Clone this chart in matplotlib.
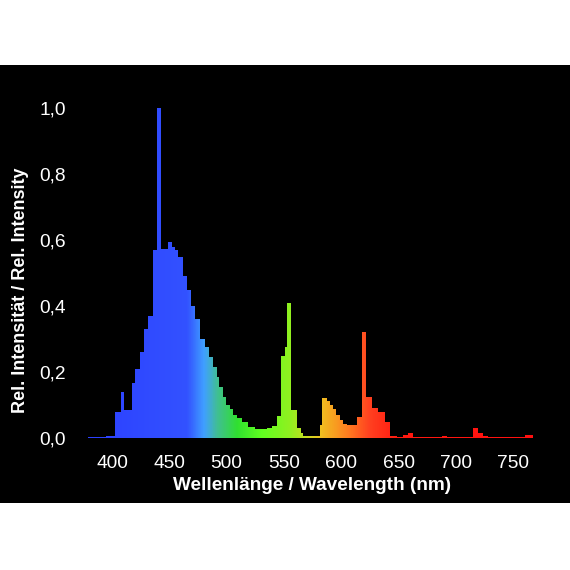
import matplotlib
matplotlib.use("Agg")
import matplotlib.pyplot as plt
import numpy as np
from matplotlib.colors import LinearSegmentedColormap, to_rgb
from matplotlib.patches import Rectangle
from matplotlib.ticker import FuncFormatter, FixedLocator

plt.rcParams['font.family'] = ['Liberation Sans', 'DejaVu Sans']

# bin left edges (nm) and relative intensity per bin
edges = [379, 395, 402.6, 408, 410.5, 417.5, 420, 424.5, 428, 431.5,
         435.8, 439, 442.5, 449, 452.4, 455, 458, 462, 465.4, 469,
         472.4, 476.8, 481.2, 484.5, 488.1, 491.6, 493.4, 496.9, 499.5, 503,
         505.6, 509.1, 513.4, 518.7, 524.8, 535.3, 539.6, 544, 547.5, 551,
         552.7, 556.2, 561.4, 564.9, 566.7, 581.5, 583.2, 587.6, 590.2, 592.8,
         595.5, 599, 601.6, 605.1, 613.8, 618.2, 621.6, 626.9, 632.1, 638.2,
         642.6, 648.7, 653.9, 658.3, 662.7, 688, 692, 715, 719.4, 723.7,
         728.1, 760.4, 767.4]
values = [0.004, 0.006, 0.08, 0.14, 0.085, 0.167, 0.21, 0.26, 0.33, 0.37,
          0.57, 1.0, 0.573, 0.594, 0.58, 0.57, 0.55, 0.49, 0.45, 0.40,
          0.36, 0.30, 0.275, 0.245, 0.215, 0.185, 0.155, 0.125, 0.10, 0.087,
          0.07, 0.06, 0.048, 0.032, 0.026, 0.03, 0.036, 0.066, 0.25, 0.275,
          0.41, 0.085, 0.03, 0.015, 0.007, 0.04, 0.12, 0.113, 0.10, 0.088,
          0.07, 0.055, 0.042, 0.04, 0.065, 0.32, 0.125, 0.09, 0.078, 0.05,
          0.006, 0.004, 0.008, 0.015, 0.004, 0.007, 0.004, 0.03, 0.015, 0.005,
          0.002, 0.008]

x_ticks = [400, 450, 500, 550, 600, 650, 700, 750]
y_ticks = [0.0, 0.2, 0.4, 0.6, 0.8, 1.0]
x_label = "Wellenlänge / Wavelength (nm)"
y_label = "Rel. Intensität / Rel. Intensity"

# spectral colour stops (nm, colour)
stop_wl = [379, 465, 480, 492, 509, 530, 555, 568, 582, 605, 625, 650, 768]
stop_col = ['#2c40ff', '#3352ff', '#40a0ff', '#40c090', '#30e030', '#60ff20',
            '#90f020', '#c0e020', '#f0c020', '#ff8020', '#ff4020', '#ff1a10', '#ff1010']

fig = plt.figure(figsize=(5.7, 5.7), dpi=100, facecolor='white')
fig.patches.append(Rectangle((0, (570 - 503) / 570), 1, (503 - 65) / 570,
                             transform=fig.transFigure, facecolor='black',
                             edgecolor='none', zorder=-10))

ax = fig.add_axes([85 / 570, (570 - 438) / 570, (540 - 85) / 570, (438 - 100) / 570])
ax.set_facecolor('black')
wl0 = 400 + (85 - 112) / 1.146
wl1 = 400 + (540 - 112) / 1.146
ymax = (438 - 100) / 330

lo, hi = min(stop_wl), max(stop_wl)
cmap = LinearSegmentedColormap.from_list(
    'spec', [((w - lo) / (hi - lo), to_rgb(c)) for w, c in zip(stop_wl, stop_col)])

patch = ax.stairs(values, edges, fill=True, facecolor='none', edgecolor='none', baseline=0)
grad = np.linspace(0, 1, 1000).reshape(1, -1)
im = ax.imshow(grad, cmap=cmap, aspect='auto', extent=[lo, hi, 0, 1.01],
               interpolation='bilinear', zorder=2)
im.set_clip_path(patch)
ax.set_xlim(wl0, wl1)
ax.set_ylim(0, ymax)

for s in ax.spines.values():
    s.set_visible(False)
ax.xaxis.set_major_locator(FixedLocator(x_ticks))
ax.yaxis.set_major_locator(FixedLocator(y_ticks))
ax.yaxis.set_major_formatter(FuncFormatter(lambda v, p: f"{v:.1f}".replace('.', ',')))
ax.tick_params(axis='both', length=0, colors='white', labelsize=13.8)
ax.tick_params(axis='y', pad=14)
ax.tick_params(axis='x', pad=12)
ax.set_xlabel(x_label, color='white', fontsize=13.7, fontweight='bold', labelpad=4)
ax.set_ylabel(y_label, color='white', fontsize=13.0, fontweight='bold')
ax.yaxis.set_label_coords((29 - 85) / 455, (438 - 290) / 338)

fig.savefig('out.png', dpi=100, facecolor='white')
